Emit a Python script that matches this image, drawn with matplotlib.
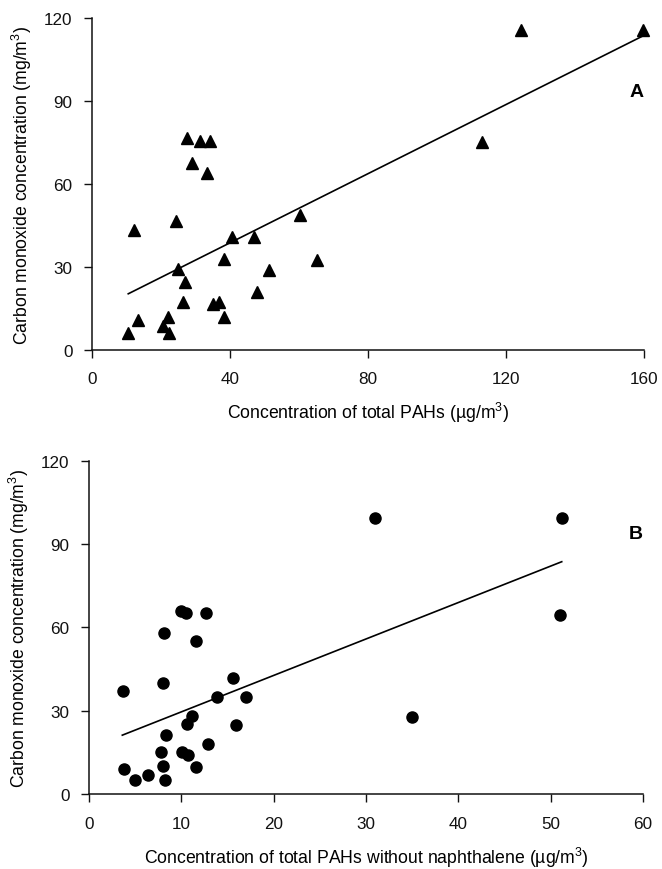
import matplotlib
matplotlib.use("Agg")
import matplotlib.pyplot as plt
import numpy as np

plt.rcParams['font.family'] = ['Liberation Sans', 'DejaVu Sans']
plt.rcParams['mathtext.fontset'] = 'custom'
plt.rcParams['mathtext.rm'] = 'Liberation Sans'

# Panel A data: total PAHs (ug/m3) vs CO (mg/m3)
a_x = [27.4, 31.3, 34.3, 29.1, 33.3, 24.2, 12.1, 40.5, 47.0, 60.3,
       38.3, 65.2, 24.9, 51.2, 27.0, 47.8, 26.5, 35.2, 36.9, 13.3,
       22.1, 38.3, 20.6, 10.4, 22.4, 124.3, 159.8, 112.9]
a_y = [76.7, 75.5, 75.5, 67.6, 64.0, 46.6, 43.2, 40.7, 40.7, 48.9,
       32.7, 32.5, 29.1, 28.9, 24.5, 20.9, 17.5, 16.5, 17.5, 10.9,
       12.0, 12.0, 8.5, 6.0, 6.0, 115.7, 115.5, 75.2]
a_fit_x = [10.5, 159.8]
a_fit_y = [20.3, 113.6]

# Panel B data: total PAHs without naphthalene vs CO
b_x = [9.94, 10.5, 12.7, 8.13, 11.56, 8.06, 3.65, 15.6, 13.9, 17.0,
       11.2, 10.66, 15.9, 8.31, 12.9, 7.8, 10.05, 10.73, 3.76, 8.06,
       11.63, 6.36, 5.02, 8.24, 31.0, 51.2, 51.0, 35.0]
b_y = [66.0, 65.2, 65.1, 58.1, 55.1, 40.0, 37.1, 41.9, 35.0, 35.0,
       28.2, 25.1, 25.0, 21.2, 18.1, 15.2, 15.1, 14.2, 9.1, 10.0,
       9.8, 7.0, 5.0, 4.9, 99.6, 99.4, 64.5, 27.6]
b_fit_x = [3.61, 51.2]
b_fit_y = [21.2, 83.7]

a_xticks = [0, 40, 80, 120, 160]
b_xticks = [0, 10, 20, 30, 40, 50, 60]
yticks = [0, 30, 60, 90, 120]

fig = plt.figure(figsize=(6.62, 8.70), dpi=100)
axA = fig.add_axes([0.139, 0.5966, 0.834, 0.3816])
axB = fig.add_axes([0.1344, 0.0862, 0.8369, 0.3828])

def style(ax):
    for s in ['top', 'right']:
        ax.spines[s].set_visible(False)
    for s in ['left', 'bottom']:
        ax.spines[s].set_linewidth(1.1)
        ax.spines[s].set_color('#111111')
    ax.tick_params(direction='out', length=6, width=1.0, labelsize=12.3,
                   colors='#111111', pad=8)
    ax.tick_params(axis='x', pad=9.5)
    ax.set_yticks(yticks)
    ax.set_ylim(0, 120)

axA.plot(a_x, a_y, linestyle='none', marker='^', markersize=8.5,
         color='black', clip_on=False)
axA.plot(a_fit_x, a_fit_y, color='black', linewidth=1.2)
axA.set_xlim(0, 160)
axA.set_xticks(a_xticks)
style(axA)
axA.set_xlabel('Concentration of total PAHs (\u00b5g/m$^3$)', fontsize=12.7, labelpad=9.5)
axA.set_ylabel('Carbon monoxide concentration (mg/m$^3$)', fontsize=12.7, labelpad=7)
axA.text(157.8, 93.3, 'A', fontsize=14, fontweight='bold', ha='center', va='center')

axB.plot(b_x, b_y, linestyle='none', marker='o', markersize=8,
         color='black', clip_on=False)
axB.plot(b_fit_x, b_fit_y, color='black', linewidth=1.2)
axB.set_xlim(0, 60)
axB.set_xticks(b_xticks)
style(axB)
axB.set_xlabel('Concentration of total PAHs without naphthalene (\u00b5g/m$^3$)', fontsize=12.7, labelpad=10.5)
axB.set_ylabel('Carbon monoxide concentration (mg/m$^3$)', fontsize=12.7, labelpad=7)
axB.text(59.2, 94.0, 'B', fontsize=14, fontweight='bold', ha='center', va='center')

fig.savefig('out.png', dpi=100)
